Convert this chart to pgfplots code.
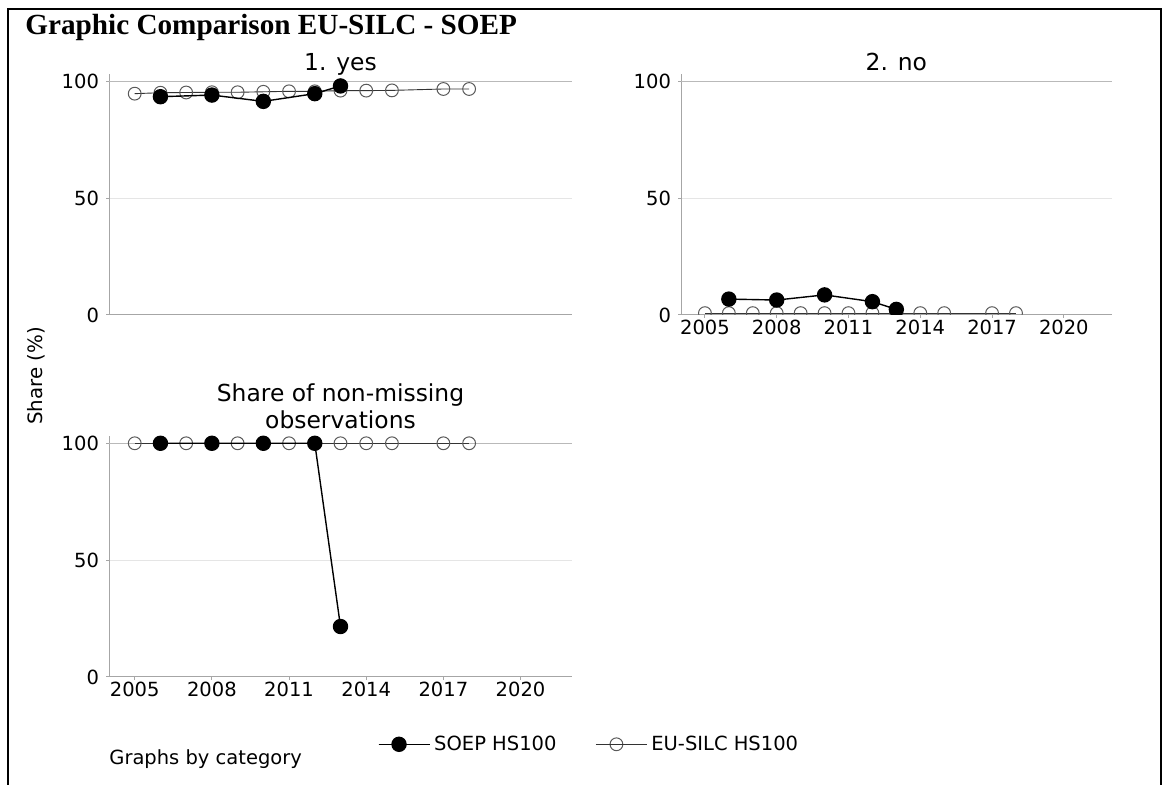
\documentclass[border=0pt]{standalone}
\usepackage{fontspec}
\setmainfont{DejaVu Sans}
\newfontfamily\titlefont{Liberation Serif}
\usepackage{pgfplots}
\pgfplotsset{compat=1.18}

\pgfplotsset{
  panel/.style={
    scale only axis, width=231.5pt, height=120.6pt,
    xmin=2004, xmax=2022, ymin=0, ymax=103.2,
    axis x line=bottom, axis y line=left,
    axis line style={-, draw=gray!70, line width=0.5pt},
    xtick={2005,2008,...,2020}, ytick={0,50}, extra y ticks={100},
    ymajorgrids, major grid style={gray!20, line width=0.5pt},
    extra y tick style={grid=major, major grid style={gray!55, line width=0.5pt}},
    tick align=outside, major tick length=1.5pt,
    tick style={gray!70, line width=0.5pt},
    ticklabel style={font=\fontsize{9.75}{11}\selectfont},
    xticklabel style={yshift=2.5pt},
    /pgf/number format/assume math mode=true,
    /pgf/number format/1000 sep={},
    title style={font=\fontsize{11.7}{13.35}\selectfont, anchor=base,
      at={(0.5,1)}, yshift=-4.6pt},
    clip marker paths=true,
  },
  soep/.style={black, line width=0.7pt, mark=*, mark size=3.5pt,
    mark options={solid, fill=black}},
  silc/.style={black!80, line width=0.45pt, mark=o, mark size=3.2pt,
    mark options={solid, draw=black!65, line width=0.5pt}},
}

\begin{document}
\begin{tikzpicture}
% frame and main title
\draw[line width=1.2pt] (4pt,-392.5pt) -- (4pt,-4.5pt) -- (580.5pt,-4.5pt) -- (580.5pt,-392.5pt);
\node[anchor=base west, inner sep=0, font=\titlefont\bfseries\fontsize{14.6}{16}\selectfont]
  at (12.5pt,-17.5pt) {Graphic Comparison EU-SILC - SOEP};

% 1. yes
\begin{axis}[panel, at={(54.5pt,-157.5pt)}, anchor=south west,
  xtick=\empty, title={1. yes}]
\addplot[silc] coordinates {(2005,94.7) (2006,95.1) (2007,95.2) (2008,95.3) (2009,95.3)
  (2010,95.5) (2011,95.7) (2012,95.7) (2013,96.0) (2014,96.0) (2015,96.1) (2017,96.7) (2018,96.7)};
\addplot[soep] coordinates {(2006,93.4) (2008,94.1) (2010,91.4) (2012,94.7) (2013,98.0)};
\end{axis}

% 2. no
\begin{axis}[panel, at={(340.5pt,-157.5pt)}, anchor=south west,
  width=215.35pt, title={2. no}]
\addplot[silc] coordinates {(2005,0.8) (2006,0.8) (2007,0.8) (2008,0.8) (2009,0.8)
  (2010,0.8) (2011,0.8) (2012,0.8) (2013,0.8) (2014,0.8) (2015,0.8) (2017,0.8) (2018,0.8)};
\addplot[soep] coordinates {(2006,6.8) (2008,6.4) (2010,8.6) (2012,5.7) (2013,2.4)};
\end{axis}

% share of non-missing observations
\begin{axis}[panel, at={(54.5pt,-338.5pt)}, anchor=south west,
  title={Share of non-missing\\observations},
  title style={align=center, anchor=south, inner sep=0pt, yshift=1.9pt},
  legend style={draw=none, fill=none, at={(1.0388,-0.279)}, anchor=center,
    legend columns=2, font=\fontsize{9.75}{11}\selectfont,
    /tikz/every even column/.append style={column sep=17.5pt}},
  legend image code/.code={\draw[mark repeat=2, mark phase=2, #1]
    plot coordinates {(0pt,0pt) (10.25pt,0pt) (20.5pt,0pt)};
    \path (0pt,0pt) -- (25.5pt,0pt);}]
\addlegendimage{soep}
\addlegendentry{SOEP HS100}
\addlegendimage{silc}
\addlegendentry{EU-SILC HS100}
\addplot[silc, forget plot] coordinates {(2005,100) (2006,100) (2007,100) (2008,100) (2009,100)
  (2010,100) (2011,100) (2012,100) (2013,100) (2014,100) (2015,100) (2017,100) (2018,100)};
\addplot[soep, forget plot] coordinates {(2006,100) (2008,100) (2010,100) (2012,100) (2013,21.6)};
\end{axis}

\node[rotate=90, font=\fontsize{9.9}{11}\selectfont] at (18.35pt,-187.9pt) {Share (\%)};
\node[anchor=west, inner sep=0, font=\fontsize{9.75}{11}\selectfont] at (54.5pt,-379.5pt) {Graphs by category};

\pgfresetboundingbox
\useasboundingbox (0,0) rectangle (581.5pt,-392.5pt);
\end{tikzpicture}
\end{document}
